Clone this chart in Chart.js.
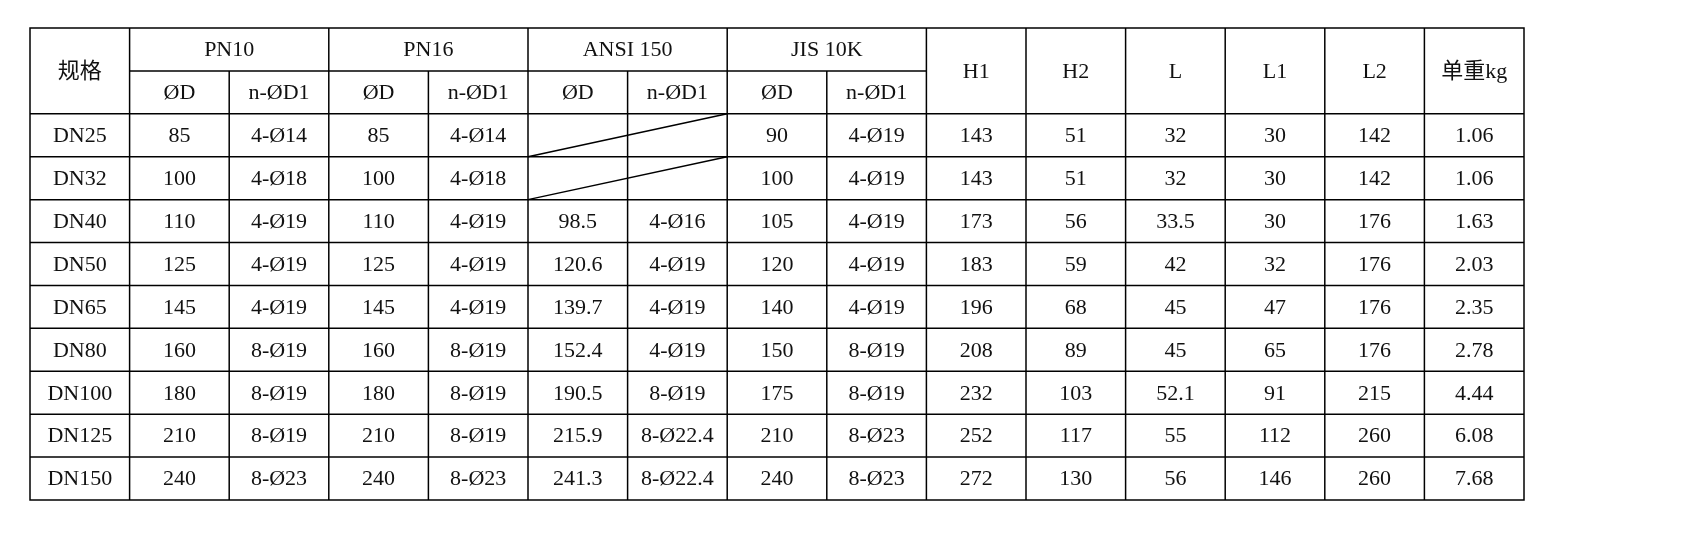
<!DOCTYPE html>
<html>
<head>
<meta charset="utf-8">
<script src="https://cdn.jsdelivr.net/npm/chart.js@4.4.0/dist/chart.umd.min.js"></script>
<style>
  body { margin: 0; background: #fff; }
  #wrap { width: 1692px; height: 559px; }
</style>
</head>
<body>
<div id="wrap"><canvas id="table"></canvas></div>
<script>
// Table data
var specs = ["DN25", "DN32", "DN40", "DN50", "DN65", "DN80", "DN100", "DN125", "DN150"];
var pn10D = ["85", "100", "110", "125", "145", "160", "180", "210", "240"];
var pn10Holes = ["4-Ø14", "4-Ø18", "4-Ø19", "4-Ø19", "4-Ø19", "8-Ø19", "8-Ø19", "8-Ø19", "8-Ø23"];
var pn16D = ["85", "100", "110", "125", "145", "160", "180", "210", "240"];
var pn16Holes = ["4-Ø14", "4-Ø18", "4-Ø19", "4-Ø19", "4-Ø19", "8-Ø19", "8-Ø19", "8-Ø19", "8-Ø23"];
var ansiD = [null, null, "98.5", "120.6", "139.7", "152.4", "190.5", "215.9", "241.3"];
var ansiHoles = [null, null, "4-Ø16", "4-Ø19", "4-Ø19", "4-Ø19", "8-Ø19", "8-Ø22.4", "8-Ø22.4"];
var jisD = ["90", "100", "105", "120", "140", "150", "175", "210", "240"];
var jisHoles = ["4-Ø19", "4-Ø19", "4-Ø19", "4-Ø19", "4-Ø19", "8-Ø19", "8-Ø19", "8-Ø23", "8-Ø23"];
var h1 = ["143", "143", "173", "183", "196", "208", "232", "252", "272"];
var h2 = ["51", "51", "56", "59", "68", "89", "103", "117", "130"];
var lenL = ["32", "32", "33.5", "42", "45", "45", "52.1", "55", "56"];
var l1 = ["30", "30", "30", "32", "47", "65", "91", "112", "146"];
var l2 = ["142", "142", "176", "176", "176", "176", "215", "260", "260"];
var weight = ["1.06", "1.06", "1.63", "2.03", "2.35", "2.78", "4.44", "6.08", "7.68"];

var groupHeaders = ["PN10", "PN16", "ANSI 150", "JIS 10K"];
var subHeaders = ["ØD", "n-ØD1"];
var tailHeaders = ["H1", "H2", "L", "L1", "L2", "单重kg"];

var columns = [specs, pn10D, pn10Holes, pn16D, pn16Holes, ansiD, ansiHoles,
               jisD, jisHoles, h1, h2, lenL, l1, l2, weight];
var nCols = columns.length;
var nRows = specs.length + 2;

var FONT = "22px 'Liberation Serif', 'Noto Sans CJK SC', serif";

var tablePlugin = {
    id: "tablePlugin",
    afterDraw: function (chart) {
        var ctx = chart.ctx;
        var xs = chart.scales.x, ys = chart.scales.y;
        function X(c) { return xs.getPixelForValue(c); }
        function Y(r) { return ys.getPixelForValue(r); }
        function line(x1, y1, x2, y2) {
            ctx.beginPath(); ctx.moveTo(x1, y1); ctx.lineTo(x2, y2); ctx.stroke();
        }
        function text(t, c, r, span, rspan) {
            ctx.fillText(t, (X(c) + X(c + (span || 1))) / 2, (Y(r) + Y(r + (rspan || 1))) / 2 + 1);
        }
        ctx.save();
        ctx.strokeStyle = "#000";
        ctx.lineWidth = 1.5;
        ctx.fillStyle = "#111";
        ctx.font = FONT;
        ctx.textAlign = "center";
        ctx.textBaseline = "middle";

        // outer border
        ctx.strokeRect(X(0), Y(0), X(nCols) - X(0), Y(nRows) - Y(0));
        // horizontal lines
        line(X(1), Y(1), X(9), Y(1));
        for (var r = 2; r < nRows; r++) line(X(0), Y(r), X(nCols), Y(r));
        // vertical lines
        for (var c = 1; c < nCols; c++) {
            var top = (c >= 1 && c <= 8 && c % 2 === 0) ? 1 : 0;
            line(X(c), Y(top), X(c), Y(nRows));
        }
        // headers
        text("规格", 0, 0, 1, 2);
        groupHeaders.forEach(function (h, i) {
            text(h, 1 + i * 2, 0, 2, 1);
            text(subHeaders[0], 1 + i * 2, 1);
            text(subHeaders[1], 2 + i * 2, 1);
        });
        tailHeaders.forEach(function (h, i) { text(h, 9 + i, 0, 1, 2); });

        // body
        for (var ci = 0; ci < nCols; ci++) {
            columns[ci].forEach(function (v, ri) {
                if (v !== null) text(v, ci, ri + 2);
            });
        }
        // diagonal for missing ANSI values
        ansiD.forEach(function (v, ri) {
            if (v === null) line(X(5), Y(ri + 3), X(7), Y(ri + 2));
        });
        ctx.restore();
    }
};

new Chart(document.getElementById("table").getContext("2d"), {
    type: "scatter",
    data: { datasets: [] },
    options: {
        responsive: true,
        maintainAspectRatio: false,
        animation: false,
        layout: { padding: { left: 30, right: 168, top: 28, bottom: 59 } },
        plugins: { legend: { display: false }, tooltip: { enabled: false } },
        scales: {
            x: { type: "linear", min: 0, max: nCols, display: false },
            y: { type: "linear", min: 0, max: nRows, reverse: true, display: false }
        }
    },
    plugins: [tablePlugin]
});
</script>
</body>
</html>
